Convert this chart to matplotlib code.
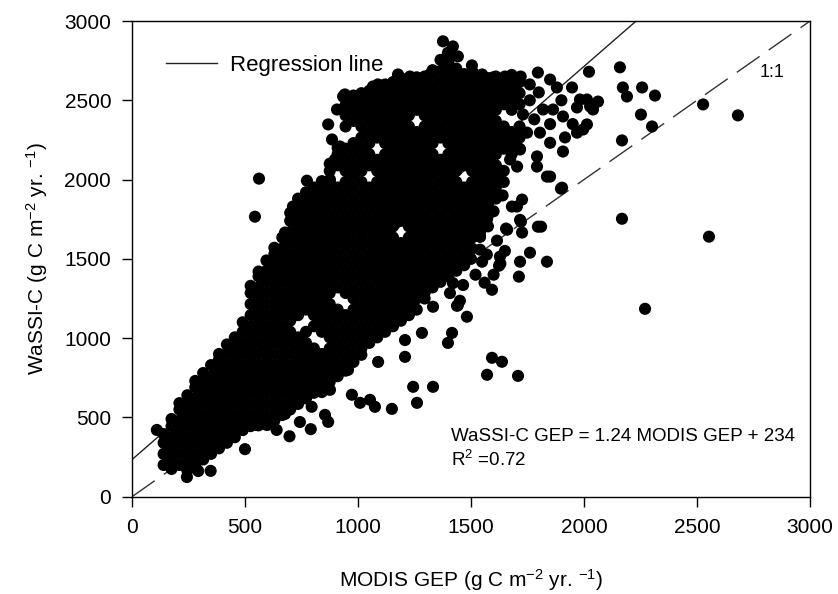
import numpy as np
import matplotlib
matplotlib.use("Agg")
import matplotlib.pyplot as plt
from matplotlib.lines import Line2D

plt.rcParams['font.family'] = ['Liberation Sans', 'DejaVu Sans']
plt.rcParams['mathtext.default'] = 'regular'

# regression results shown on the chart
slope = 1.24
intercept = 234
r2 = 0.72

# dense lower band: (MODIS GEP, [WaSSI-C GEP values])
lower_band = [
    (140, [200, 270, 340, 395]),
    (175, [175, 235, 305, 375, 445, 490]),
    (210, [200, 270, 340, 410, 480, 550, 590]),
    (245, [165, 235, 305, 375, 445, 515, 585, 640]),
    (280, [200, 270, 340, 410, 480, 550, 620, 690, 730]),
    (315, [235, 305, 375, 445, 515, 585, 655, 725, 780]),
    (350, [270, 340, 410, 480, 550, 620, 690, 760, 830]),
    (385, [305, 375, 445, 515, 585, 655, 725, 795, 865, 900]),
    (420, [340, 410, 480, 550, 620, 690, 760, 830, 900, 960]),
    (455, [375, 445, 515, 585, 655, 725, 795, 865, 935, 1005]),
    (490, [420, 480, 550, 620, 690, 760, 830, 900, 970, 1040, 1100]),
    (525, [445, 515, 585, 655, 725, 795, 865, 935, 1005, 1075, 1145, 1215, 1285, 1330]),
    (560, [450, 480, 550, 620, 690, 760, 830, 900, 970, 1040, 1110, 1180, 1250, 1320, 1390, 1420]),
    (595, [460, 515, 585, 655, 725, 795, 865, 935, 1005, 1075, 1145, 1215, 1285, 1355, 1425, 1490]),
    (630, [480, 550, 620, 690, 760, 830, 900, 970, 1040, 1110, 1180, 1250, 1320, 1390, 1460, 1530, 1570]),
    (665, [515, 585, 655, 725, 795, 865, 935, 1005, 1075, 1145, 1215, 1285, 1355, 1425, 1495, 1565, 1635]),
    (700, [550, 620, 690, 760, 830, 900, 970, 1040, 1110, 1180, 1250, 1320, 1390, 1460, 1530, 1600, 1670, 1740, 1790]),
    (735, [585, 655, 725, 795, 865, 935, 1005, 1145, 1215, 1285, 1355, 1425, 1495, 1565, 1635, 1705, 1775, 1845, 1880]),
    (770, [620, 690, 760, 830, 900, 970, 1040, 1180, 1250, 1320, 1390, 1460, 1530, 1600, 1670, 1740, 1810, 1880, 1920]),
    (805, [655, 725, 795, 865, 935, 1075, 1145, 1215, 1285, 1355, 1425, 1495, 1565, 1635, 1705, 1775, 1845, 1915, 1950]),
    (840, [660, 690, 760, 830, 900, 1040, 1110, 1180, 1250, 1320, 1390, 1460, 1530, 1600, 1670, 1740, 1810, 1880, 1950, 1990]),
    (875, [725, 795, 865, 935, 1005, 1075, 1145, 1215, 1285, 1355, 1425, 1495, 1565, 1635, 1705, 1775, 1845, 1915, 1985, 2055, 2100]),
    (910, [760, 830, 900, 970, 1040, 1110, 1180, 1320, 1390, 1460, 1530, 1600, 1670, 1740, 1810, 1880, 1950, 2090, 2160, 2200]),
    (945, [795, 865, 935, 1005, 1075, 1145, 1285, 1355, 1425, 1495, 1565, 1635, 1705, 1775, 1845, 1915, 1985, 2055, 2125, 2195, 2335, 2405, 2470]),
    (980, [850, 900, 970, 1040, 1110, 1180, 1250, 1320, 1390, 1460, 1530, 1600, 1670, 1740, 1810, 1880, 1950, 2020, 2090, 2160, 2230, 2370, 2440, 2510, 2530]),
]

# main upper mass
main_mass = [
    (1015, [895, 935, 1005, 1075, 1145, 1215, 1285, 1355, 1425, 1495, 1565, 1635, 1705, 1775, 1845, 1915, 1985, 2055, 2125, 2195, 2265, 2335, 2405, 2475, 2545]),
    (1050, [970, 1040, 1110, 1180, 1250, 1320, 1390, 1460, 1530, 1600, 1670, 1740, 1810, 1880, 1950, 2090, 2160, 2230, 2300, 2370, 2440, 2510, 2560]),
    (1085, [1005, 1075, 1145, 1215, 1285, 1355, 1425, 1495, 1565, 1635, 1705, 1775, 1845, 1915, 1985, 2055, 2125, 2265, 2335, 2405, 2475, 2545, 2590]),
    (1120, [1040, 1110, 1180, 1250, 1320, 1390, 1460, 1530, 1600, 1670, 1740, 1810, 1880, 1950, 2020, 2090, 2160, 2230, 2300, 2370, 2440, 2510, 2580, 2600]),
    (1155, [1075, 1145, 1215, 1285, 1355, 1425, 1495, 1565, 1635, 1705, 1775, 1845, 1915, 1985, 2055, 2125, 2195, 2265, 2335, 2405, 2475, 2545, 2615]),
    (1190, [1110, 1180, 1250, 1320, 1390, 1460, 1530, 1600, 1740, 1810, 1880, 1950, 2020, 2090, 2160, 2230, 2300, 2370, 2440, 2510, 2580, 2640]),
    (1225, [1145, 1215, 1285, 1355, 1425, 1495, 1565, 1635, 1705, 1775, 1845, 1915, 1985, 2055, 2125, 2195, 2265, 2335, 2405, 2475, 2545, 2615, 2640]),
    (1260, [1180, 1250, 1320, 1390, 1460, 1530, 1600, 1670, 1740, 1810, 1880, 1950, 2020, 2090, 2160, 2230, 2300, 2440, 2510, 2580, 2645]),
    (1295, [1250, 1285, 1355, 1425, 1495, 1565, 1635, 1705, 1775, 1845, 1915, 1985, 2055, 2125, 2195, 2265, 2335, 2405, 2475, 2545, 2615, 2650]),
    (1330, [1320, 1390, 1460, 1530, 1600, 1670, 1740, 1810, 1880, 1950, 2020, 2090, 2160, 2230, 2300, 2370, 2440, 2510, 2580, 2650, 2690]),
    (1365, [1355, 1425, 1495, 1565, 1635, 1705, 1775, 1845, 1915, 1985, 2055, 2125, 2265, 2335, 2405, 2475, 2545, 2615, 2685, 2755]),
    (1400, [1390, 1460, 1530, 1600, 1670, 1740, 1810, 1880, 1950, 2020, 2090, 2160, 2230, 2300, 2370, 2440, 2510, 2580, 2650, 2720, 2740]),
    (1435, [1425, 1495, 1565, 1635, 1705, 1775, 1845, 1915, 1985, 2055, 2125, 2195, 2265, 2335, 2405, 2475, 2545, 2615, 2685, 2700]),
    (1470, [1460, 1530, 1600, 1670, 1740, 1810, 1880, 1950, 2090, 2160, 2230, 2300, 2370, 2440, 2510, 2580, 2650, 2665]),
    (1505, [1565, 1635, 1705, 1775, 1845, 1915, 1985, 2055, 2125, 2195, 2265, 2335, 2405, 2475, 2545, 2615, 2685]),
    (1540, [1640, 1670, 1740, 1810, 1880, 1950, 2020, 2090, 2160, 2230, 2300, 2370, 2440, 2510, 2580, 2650]),
    (1575, [1705, 1775, 1845, 1915, 1985, 2055, 2125, 2195, 2265, 2335, 2405, 2475, 2545, 2615, 2640]),
    (1610, [1880, 1950, 2020, 2090, 2160, 2230, 2300, 2370, 2440, 2510, 2580, 2650]),
    (1645, [1985, 2055, 2195, 2265, 2335, 2475, 2545, 2615, 2640]),
    (1680, [2160, 2230, 2300, 2440, 2510, 2580, 2630]),
    (1715, [2195, 2265, 2335, 2475, 2545, 2615]),
]

# loose points around the cloud (MODIS GEP, WaSSI-C GEP)
scattered = [
    (110, 421), (243, 124), (293, 162), (348, 163), (500, 300),
    (549, 452), (597, 452), (640, 421), (697, 381), (677, 522), (743, 471),
    (791, 426), (795, 567), (854, 516), (868, 472), (973, 643), (1009, 592),
    (1053, 611), (1075, 567), (1150, 554), (1089, 850), (1208, 988), (1208, 882),
    (1244, 693), (1261, 592), (876, 674), (956, 800), (965, 895), (1332, 693),
    (1283, 1033), (1416, 1033), (1398, 970), (1438, 1204), (1482, 1135),
    (1332, 1198), (1451, 1236), (1593, 876), (1637, 851), (1571, 769), (1708, 762),
    (1442, 1208), (1407, 1284), (1420, 1347), (1465, 1335), (1319, 1431),
    (1363, 1474), (1482, 1684), (1540, 1640), (1482, 1600), (1571, 1750),
    (1540, 1558), (1570, 1527), (1615, 1615), (1660, 1684), (1630, 1470),
    (1717, 1746), (1703, 1830), (1726, 1874), (1761, 1539), (1717, 1482),
    (1712, 1388), (1796, 1703), (1593, 1305), (1681, 1830), (1721, 1735),
    (1726, 1666), (1655, 1691), (1836, 1482), (1624, 1457), (1810, 1703),
    (1850, 2019), (1898, 1943), (1549, 1482), (1451, 1463), (1376, 1432),
    (1628, 1514), (1600, 1400), (1520, 1400), (1500, 1500), (1560, 1350),
    (1650, 1550), (1600, 1800), (1640, 1900),
    (1796, 2675), (1850, 2631), (1880, 2581), (1947, 2581), (1982, 2505),
    (2013, 2505), (2027, 2461), (2062, 2492), (2040, 2442), (1969, 2455),
    (1863, 2442), (1819, 2442), (1730, 2411), (1907, 2398), (1748, 2296),
    (1805, 2296), (1850, 2232), (1907, 2177), (1969, 2296), (2013, 2348),
    (1996, 2316), (1916, 2266), (1717, 2190), (1792, 2146), (1836, 2019),
    (1903, 1949), (1792, 2082), (1704, 2082), (1673, 2127), (1760, 2500),
    (1800, 2550), (1760, 2600), (1720, 2650), (1680, 2660), (1900, 2500),
    (1850, 2350), (1780, 2380), (1950, 2350),
    (2022, 2680), (2159, 2708), (2172, 2581), (2190, 2524), (2257, 2581),
    (2314, 2530), (2252, 2410), (2301, 2335), (2168, 2247), (2527, 2474),
    (2681, 2405), (2553, 1640), (2168, 1753), (2270, 1185),
    (1376, 2872), (1420, 2840), (1442, 2777), (1398, 2800), (1504, 2720),
    (1385, 2706), (1549, 2663), (1597, 2644), (1650, 2650),
    (562, 2006), (544, 1766), (774, 1993), (712, 1830), (677, 1666),
    (868, 2348), (885, 2253), (907, 2442), (934, 2524), (965, 2474),
    (920, 2209), (898, 2127), (876, 2000), (942, 2537), (1022, 2537),
    (1066, 2587), (1088, 2600), (1177, 2663), (1230, 2650), (1318, 2663),
]

modis = []
wassi = []
for x, ys in lower_band + main_mass:
    for y in ys:
        modis.append(x)
        wassi.append(y)
for x, y in scattered:
    modis.append(x)
    wassi.append(y)
modis = np.array(modis, dtype=float)
wassi = np.array(wassi, dtype=float)

fig = plt.figure(figsize=(8.38, 5.94), dpi=100)
ax = fig.add_axes([0.1575, 0.1638, 0.8091, 0.8008])

ax.scatter(modis, wassi, s=76, c='black', edgecolors='none', zorder=3)

xx = np.array([0, 3000])
ax.plot(xx, slope * xx + intercept, color='#222222', lw=1.0, zorder=2)
ax.plot(xx, xx, color='#333333', lw=1.0, dashes=(20, 8), zorder=2)

ax.set_xlim(0, 3000)
ax.set_ylim(0, 3000)
ax.set_xticks(range(0, 3001, 500))
ax.set_yticks(range(0, 3001, 500))
ax.tick_params(direction='out', length=7, width=1, labelsize=15, pad=8,
               top=False, right=False)
for sp in ax.spines.values():
    sp.set_linewidth(1.0)

ax.set_xlabel('MODIS GEP (g C m$^{-2}$ yr. $^{-1}$)', fontsize=15, labelpad=22)
ax.set_ylabel('WaSSI-C (g C m$^{-2}$ yr. $^{-1}$)', fontsize=15, labelpad=10)

ax.text(2832, 2676, '1:1', fontsize=13, ha='center', va='center')
ax.text(1410, 379, 'WaSSI-C GEP = %.2f MODIS GEP + %d' % (slope, intercept),
        fontsize=13.5, ha='left', va='center')
ax.text(1410, 232, 'R$^2$ =%.2f' % r2, fontsize=13.5, ha='left', va='center')

handle = Line2D([], [], color='#222222', lw=1.0)
ax.legend([handle], ['Regression line'], loc='center left',
          bbox_to_anchor=(0.050, 0.9075), frameon=False, fontsize=16,
          handlelength=2.3, handletextpad=0.6, borderpad=0, borderaxespad=0)

fig.savefig('out.png', dpi=100)
